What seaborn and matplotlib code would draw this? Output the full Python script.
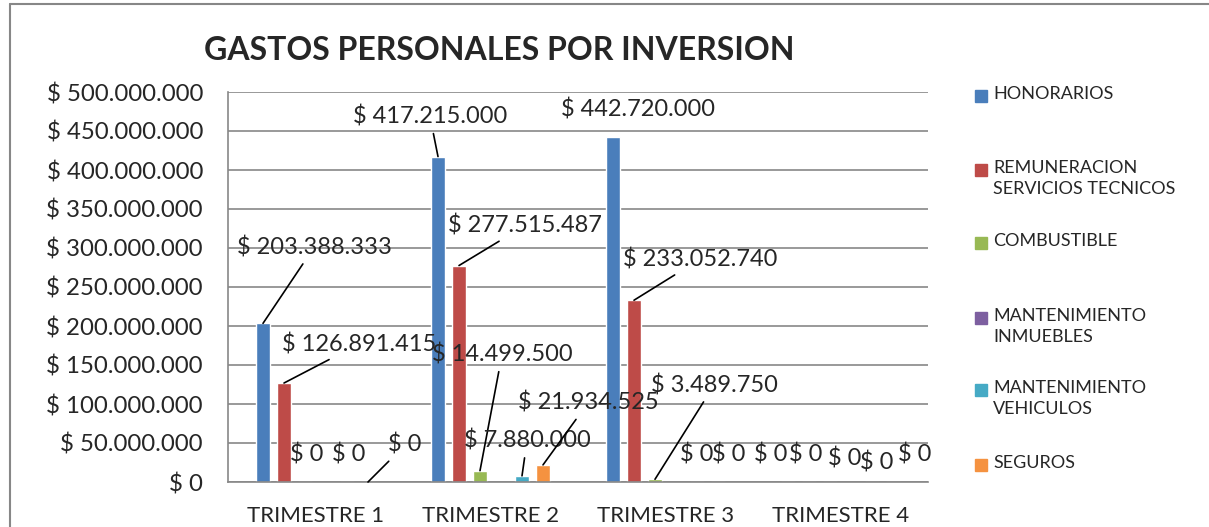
import numpy as np
import pandas as pd
import matplotlib
matplotlib.use("Agg")
from matplotlib import pyplot as plt
from matplotlib.lines import Line2D
from matplotlib.patches import Rectangle
from matplotlib.ticker import FuncFormatter, MultipleLocator
import seaborn as sns

# data
trimestres = ["TRIMESTRE 1", "TRIMESTRE 2", "TRIMESTRE 3", "TRIMESTRE 4"]
rubros = ["HONORARIOS", "REMUNERACION SERVICIOS TECNICOS", "COMBUSTIBLE",
          "MANTENIMIENTO INMUEBLES", "MANTENIMIENTO VEHICULOS", "SEGUROS"]
legend_labels = ["HONORARIOS", "REMUNERACION\nSERVICIOS TECNICOS", "COMBUSTIBLE",
                 "MANTENIMIENTO\nINMUEBLES", "MANTENIMIENTO\nVEHICULOS", "SEGUROS"]
honorarios = [203388333, 417215000, 442720000, 0]
remuneracion = [126891415, 277515487, 233052740, 0]
combustible = [0, 14499500, 3489750, 0]
mant_inmuebles = [np.nan, np.nan, np.nan, np.nan]  # no values in the sheet
mant_vehiculos = [0, 7880000, 0, 0]
seguros = [0, 21934525, 0, 0]
colores = ["#4A7EBB", "#BE4B48", "#98B954", "#7D5FA0", "#46AAC5", "#F59240"]

valores = [honorarios, remuneracion, combustible, mant_inmuebles, mant_vehiculos, seguros]
df = pd.DataFrame({
    "trimestre": trimestres * len(rubros),
    "rubro": np.repeat(rubros, len(trimestres)),
    "valor": np.concatenate(valores),
})

# where excel left each data label (pixels from bar top) and whether it drew a leader line
label_pos = {
    0: [(51, 76, True), (-8, 40, True), (25, 27, False), (-17, 27, False)],
    1: [(75, 39, True), (66, 40, True), (66, 41, True), (-3, 27, False)],
    2: [(2, 27, False), (22, 116, True), (59, 94, True), (15, 23, False)],
    4: [(2, 27, False), (5, 35, True), (0, 27, False), (5, 20, False)],
    5: [(37, 37, True), (45, 62, True), (11, 27, False), (22, 27, False)],
}

W, H = 1209, 527
sns.set_style("white")
plt.rcParams["font.family"] = ["Lato", "DejaVu Sans"]

fig = plt.figure(figsize=(W / 100, H / 100), dpi=100)
ax = fig.add_axes([228 / W, 1 - 482 / H, (928 - 228) / W, (482 - 92) / H])

sns.barplot(data=df, x="trimestre", y="valor", hue="rubro", hue_order=rubros,
            order=trimestres, palette=colores, saturation=1, width=0.72, gap=0.38,
            errorbar=None, legend=False, ax=ax)

def pesos(v, pos=None):
    return "$ " + f"{v:,.0f}".replace(",", ".")

ax.set_ylim(0, 500000000)
ax.set_xlim(-0.5, 3.5)
ax.yaxis.set_major_locator(MultipleLocator(50000000))
ax.yaxis.set_major_formatter(FuncFormatter(pesos))
ax.yaxis.grid(True, color="#878787", linewidth=1.2)
ax.set_axisbelow(True)
ax.set_xlabel("")
ax.set_ylabel("")
for s in ["top", "right"]:
    ax.spines[s].set_visible(False)
for s in ["left", "bottom"]:
    ax.spines[s].set_color("#878787")
    ax.spines[s].set_linewidth(1.2)
ax.tick_params(axis="y", length=7, width=1.2, color="#878787", pad=11, labelsize=17.3)
ax.tick_params(axis="x", which="major", length=0, pad=17, labelsize=16)
ax.set_xticks(np.arange(-0.5, 4, 1), minor=True)
ax.tick_params(axis="x", which="minor", length=6, width=1.2, color="#878787")

# find each bar by its colour and category
barras = {}
for p in ax.patches:
    h = p.get_height()
    if np.isnan(h):
        continue
    fc = matplotlib.colors.to_hex(p.get_facecolor())
    i = [c.lower() for c in colores].index(fc.lower())
    j = int(round(p.get_x() + p.get_width() / 2))
    barras[(i, j)] = p

for i, posiciones in label_pos.items():
    for j, (dx, dy, linea) in enumerate(posiciones):
        p = barras[(i, j)]
        xb = p.get_x() + p.get_width() / 2
        yb = p.get_height()
        kw = {}
        if linea:
            kw["arrowprops"] = dict(arrowstyle="-", color="black", lw=1.2, shrinkA=2, shrinkB=0)
        ax.annotate(pesos(valores[i][j]), xy=(xb, yb), xytext=(dx, dy),
                    textcoords="offset pixels", ha="center", va="center",
                    fontsize=17, annotation_clip=False, **kw)

fig.text(499 / W, 1 - 50 / H, "GASTOS PERSONALES POR INVERSION",
         ha="center", va="center", fontsize=23, fontweight="bold")

# legend drawn by hand so markers sit on the first line like excel
leg_y = [96, 170, 243, 318, 390, 465]
for lbl, col, y in zip(legend_labels, colores, leg_y):
    fig.add_artist(Rectangle(((975) / W, 1 - (y + 6) / H), 12 / W, 12 / H,
                             transform=fig.transFigure, color=col))
    fig.text(993 / W, 1 - (y - 10) / H, lbl, ha="left", va="top",
             fontsize=13, linespacing=1.4)

# chart frame
fig.add_artist(Line2D([10 / W, 1], [1 - 4 / H, 1 - 4 / H], transform=fig.transFigure,
                      color="#878787", lw=1.5))
fig.add_artist(Line2D([10 / W, 10 / W], [0, 1 - 4 / H], transform=fig.transFigure,
                      color="#878787", lw=1.5))

fig.savefig("out.png", dpi=100)
